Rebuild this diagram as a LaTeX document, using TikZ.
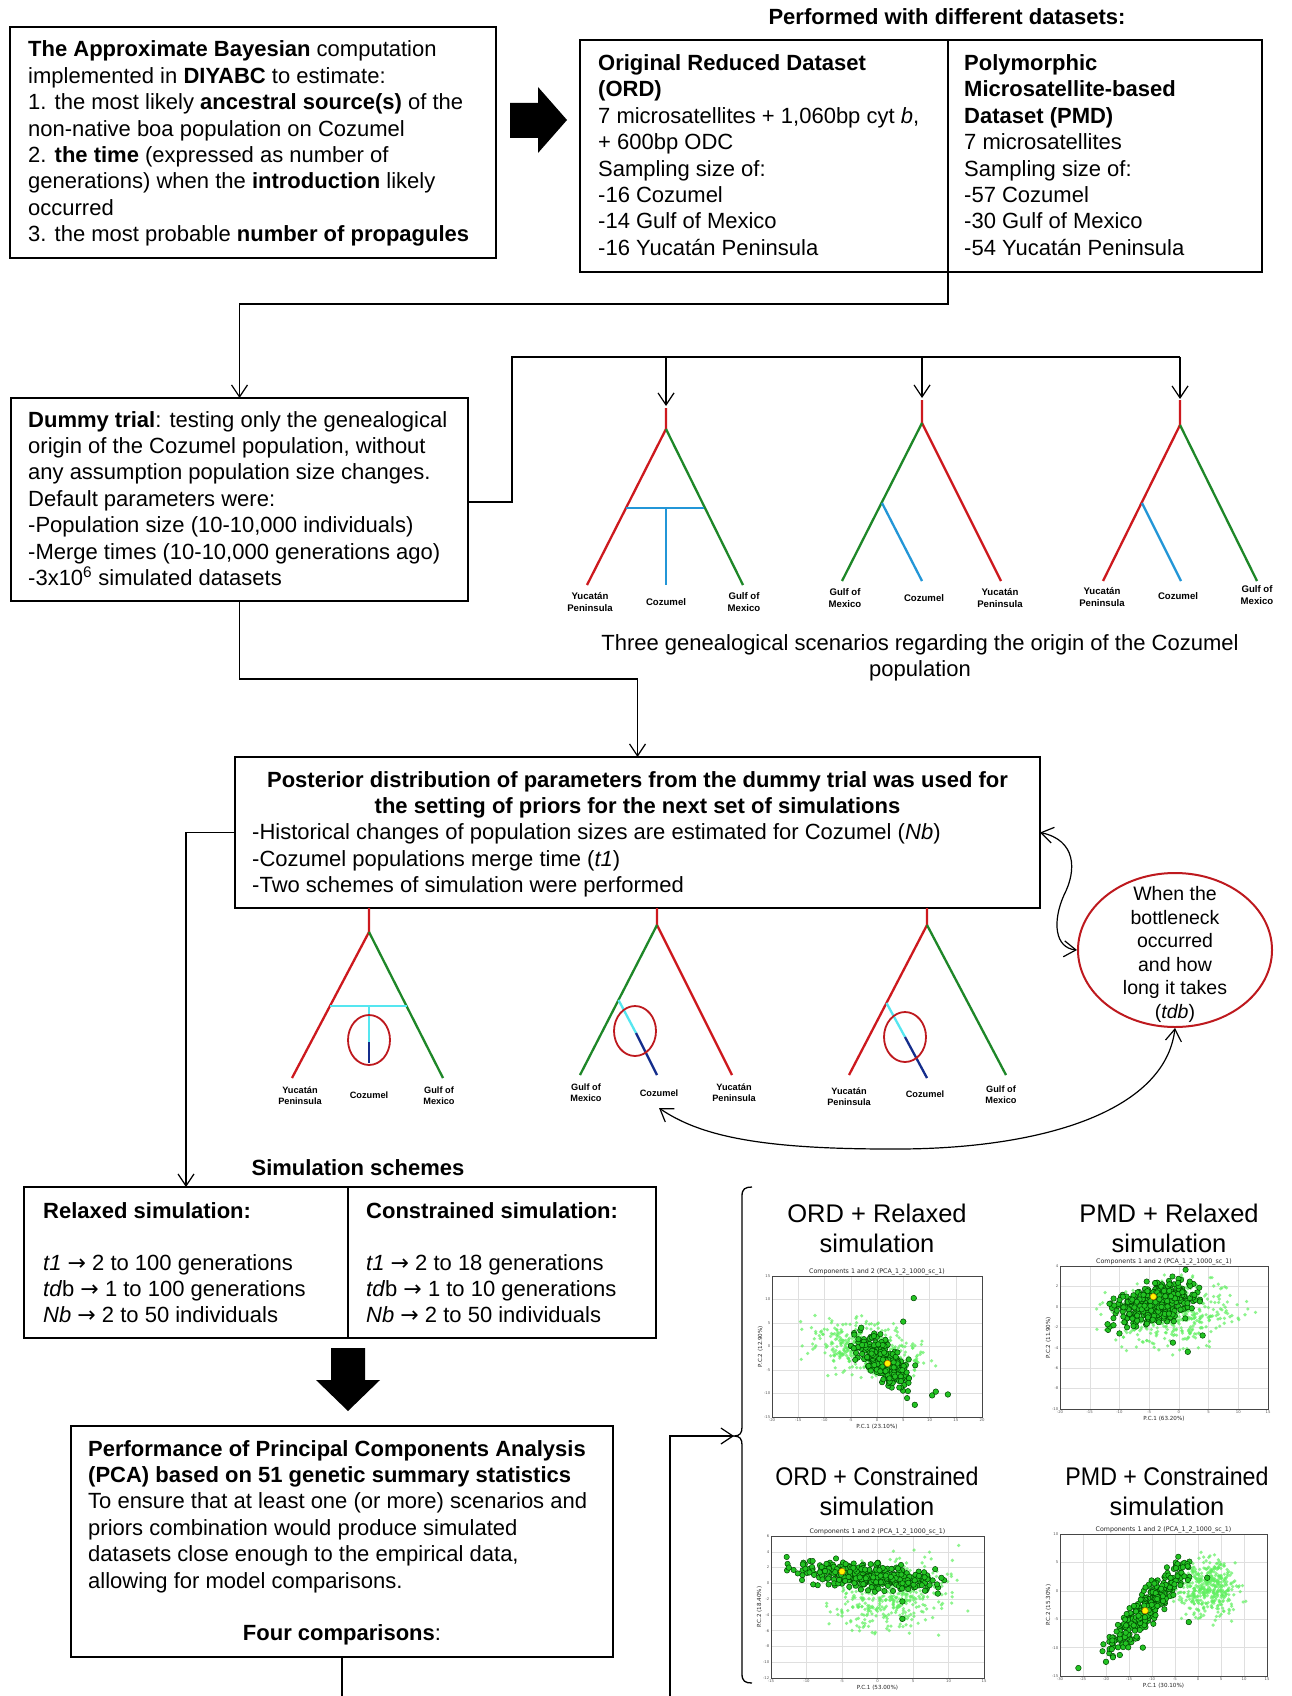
\documentclass[tikz,border=0pt]{standalone}
\usepackage{fontspec}
\usepackage{graphicx}
\setmainfont{Liberation Sans}
\newfontfamily\dejavu{DejaVu Sans}
\usetikzlibrary{arrows.meta,shapes.geometric}
\newcommand\fm{\fontsize{22}{26.4}\selectfont}
\newcommand\fe{\fontsize{19.5}{23.5}\selectfont}
\newcommand\fla{\fontsize{9.6}{11.4}\selectfont\bfseries}
\newcommand\flb{\fontsize{9.2}{11}\selectfont\bfseries}
\newcommand\ft{\fontsize{25.5}{30}\selectfont}
\newcommand\fpt{\dejavu\fontsize{6.3}{8}\selectfont}
\newcommand\fpa{\dejavu\fontsize{5.6}{7}\selectfont}
\newcommand\fpk{\dejavu\fontsize{3.8}{4.5}\selectfont}
\newcommand\ar{{\dejavu\char"2192}}
\definecolor{tred}{RGB}{205,25,30}
\definecolor{tgreen}{RGB}{30,135,40}
\definecolor{tblue}{RGB}{35,150,215}
\definecolor{tcyan}{RGB}{85,230,240}
\definecolor{tnavy}{RGB}{20,45,140}
\definecolor{ered}{RGB}{190,25,30}
\definecolor{lgreen}{RGB}{95,240,95}
\definecolor{dgreen}{RGB}{35,195,35}
\definecolor{dedge}{RGB}{0,70,0}
\tikzset{
  box/.style={draw, line width=1.4pt, anchor=north west, inner sep=0pt, outer sep=0pt},
  txt/.style={anchor=base west, inner sep=0pt, align=left, font=\fm},
  ctxt/.style={anchor=base, inner sep=0pt, align=center, font=\fm},
  conn/.style={line width=1.2pt, -{Straight Barb[length=12pt,width=16pt]}},
  dconn/.style={line width=1.2pt, {Straight Barb[length=12pt,width=16pt]}-{Straight Barb[length=12pt,width=16pt]}},
  plainline/.style={line width=1.2pt},
  thickline/.style={line width=2.8pt},
  branch/.style={line width=2.3pt},
  lab/.style={anchor=center, inner sep=0pt, align=center, font=\fla},
  labb/.style={anchor=center, inner sep=0pt, align=center, font=\flb},
  bneck/.style={draw=ered, line width=1.8pt, ellipse, inner sep=0pt, minimum width=42pt, minimum height=50pt},
  gridl/.style={gray!25, line width=0.4pt},
  tickl/.style={inner sep=0.5pt, font=\fpk, text=gray!70!black},
  pfr/.style={draw=gray!55!black, line width=0.8pt, anchor=north west, inner sep=0pt, outer sep=0pt},
  ptit/.style={anchor=base, inner sep=0pt, font=\fpt, text=gray!30!black},
  pax/.style={inner sep=0pt, font=\fpa, text=gray!30!black},
  ttl/.style={anchor=base, inner sep=0pt, align=center, font=\ft},
}
% plot helpers
\newcommand\pframe[5]{%
  \pgfmathsetmacro\PW{\PR-\PL}\pgfmathsetmacro\PH{\PB-\PT}%
  \foreach \v [count=\k] in {#2}{%
    \pgfmathsetmacro\px{\PL+(\v-(\XA))*\SX}%
    \draw[gridl] (\px,\PT) -- (\px,\PB);
    \node[tickl, anchor=north] (#1x\k) at (\px,\PB+1) {\v};
  }%
  \foreach \v [count=\k] in {#3}{%
    \pgfmathsetmacro\py{\PB-(\v-(\YA))*\SY}%
    \draw[gridl] (\PL,\py) -- (\PR,\py);
    \node[tickl, anchor=east] (#1y\k) at (\PL-1,\py) {\v};
  }%
  \node[pfr, minimum width=\PW pt, minimum height=\PH pt] (#1) at (\PL,\PT) {};
  \node[ptit] (#1t) at ({(\PL+\PR)/2},\PT-2.5) {Components 1 and 2 (PCA\_1\_2\_1000\_sc\_1)};
  \node[pax, anchor=north] (#1xl) at ({(\PL+\PR)/2},\PB+7) {#4};
  \node[pax, rotate=90, anchor=south] (#1yl) at (\PL-9,{(\PT+\PB)/2}) {#5};
}
\newcommand\pcloud[8]{%
  \foreach \i in {1,...,#1}{%
    \pgfmathsetmacro\ga{rand+rand+rand}%
    \pgfmathsetmacro\gb{rand+rand+rand}%
    \pgfmathsetmacro\px{\PL+((#2)+(#3)*(\ga)-(\XA))*\SX}%
    \pgfmathsetmacro\py{\PB-((#4)+(#5)*(\ga)+(#6)*(\gb)-(\YA))*\SY}%
    \path[#7] (\px,\py) circle[radius=#8];
  }}
\newcommand\pout[2]{%
  \pgfmathsetmacro\px{\PL+((#1)-(\XA))*\SX}%
  \pgfmathsetmacro\py{\PB-((#2)-(\YA))*\SY}%
  \filldraw[fill=dgreen, draw=dedge, line width=0.5pt] (\px,\py) circle[radius=2.8];}
\newcommand\pdot[2]{%
  \pgfmathsetmacro\px{\PL+((#1)-(\XA))*\SX}%
  \pgfmathsetmacro\py{\PB-((#2)-(\YA))*\SY}%
  \filldraw[fill=yellow, draw=orange!70!black, line width=0.4pt] (\px,\py) circle[radius=3.2];}
\newcommand\setplot[8]{%
  \def\PL{#1}\def\PT{#2}\def\PR{#3}\def\PB{#4}\def\XA{#5}\def\XB{#6}\def\YA{#7}\def\YB{#8}%
  \pgfmathsetmacro\SX{(\PR-\PL)/(\XB-\XA)}\pgfmathsetmacro\SY{(\PB-\PT)/(\YB-\YA)}}

\begin{document}
\begin{tikzpicture}[x=1pt,y=-1pt]
\fill[white] (0,0) rectangle (1291,1696);
\useasboundingbox (0,0) rectangle (1291,1696);
\pgfmathsetseed{4711}

% ---------- top row ----------
% (multi-line text nodes: the base anchor is the baseline of the last line)
\node[box, minimum width=486pt, minimum height=231pt] (abc) at (10,27) {};
\node[txt] (abctext) at (28,241.8) {\textbf{The Approximate Bayesian} computation\\
implemented in \textbf{DIYABC} to estimate:\\
1. the most likely \textbf{ancestral source(s)} of the\\
non-native boa population on Cozumel\\
2. \textbf{the time} (expressed as number of\\
generations) when the \textbf{introduction} likely\\
occurred\\
3. the most probable \textbf{number of propagules}};

\fill (510,103) -- (538,103) -- (538,87) -- (567,120) -- (538,153) -- (538,138) -- (510,138) -- cycle;

\node[ctxt] (perf) at (947,25) {\textbf{Performed with different datasets:}};
\node[box, minimum width=368pt, minimum height=232pt] (ord) at (580,40) {};
\node[box, minimum width=314pt, minimum height=232pt] (pmd) at (948,40) {};
\node[txt] (ordtext) at (598,255.3) {\textbf{Original Reduced Dataset}\\
\textbf{(ORD)}\\
7 microsatellites + 1,060bp cyt \textit{b},\\
+ 600bp ODC\\
Sampling size of:\\
-16 Cozumel\\
-14 Gulf of Mexico\\
-16 Yucatán Peninsula};
\node[txt] (pmdtext) at (964,255.3) {\textbf{Polymorphic}\\
\textbf{Microsatellite-based}\\
\textbf{Dataset (PMD)}\\
7 microsatellites\\
Sampling size of:\\
-57 Cozumel\\
-30 Gulf of Mexico\\
-54 Yucatán Peninsula};

% ---------- dummy trial ----------
\node[box, minimum width=457pt, minimum height=203pt] (dummy) at (11,398) {};
\node[txt] (dummytext) at (28,585.4) {\textbf{Dummy trial}: testing only the genealogical\\
origin of the Cozumel population, without\\
any assumption population size changes.\\
Default parameters were:\\
-Population size (10-10,000 individuals)\\
-Merge times (10-10,000 generations ago)\\
-3x10\textsuperscript{6} simulated datasets};

\coordinate (k1) at (948,304);
\draw[conn] (ord.south east) -- (k1) -| (dummy.north);

\coordinate (hubA) at (512,502);
\coordinate (hubB) at (512,357);
\coordinate (j1) at (666,357);
\coordinate (j2) at (922,357);
\coordinate (j3) at (1180,357);
\draw[thickline] (dummy.east |- hubA) -- (hubA) -- (hubB) -- (j3);
\coordinate (r1) at (666,406);
\coordinate (r2) at (922,398);
\coordinate (r3) at (1180,399);
\draw[conn] (j1) -- (r1);
\draw[conn] (j2) -- (r2);
\draw[conn] (j3) -- (r3);

% tree 1
\draw[branch, tred] (666,408) -- (666,429) -- (587,585);
\draw[branch, tgreen] (666,429) -- (743,585);
\draw[branch, tblue] (626,508) -- (704,508) (666,508) -- (666,585);
% tree 2
\draw[branch, tred] (922,400) -- (922,423) -- (1001,581);
\draw[branch, tgreen] (922,423) -- (842,581);
\draw[branch, tblue] (882,503) -- (922,581);
% tree 3
\draw[branch, tred] (1180,400) -- (1180,425) -- (1103,581);
\draw[branch, tgreen] (1180,425) -- (1257,581);
\draw[branch, tblue] (1142,503) -- (1181,581);

\node[lab] (y1) at (590,602) {Yucatán\\Peninsula};
\node[lab] (c1) at (666,602) {Cozumel};
\node[lab] (g1) at (744,602) {Gulf of\\Mexico};
\node[lab] (g2) at (845,598) {Gulf of\\Mexico};
\node[lab] (c2) at (924,598) {Cozumel};
\node[lab] (y2) at (1000,598) {Yucatán\\Peninsula};
\node[lab] (y3) at (1102,597) {Yucatán\\Peninsula};
\node[lab] (c3) at (1178,596) {Cozumel};
\node[lab] (g3) at (1257,595) {Gulf of\\Mexico};

\node[ctxt] (cap) at (920,676.4) {Three genealogical scenarios regarding the origin of the Cozumel\\population};

% ---------- posterior ----------
\node[box, minimum width=805pt, minimum height=151pt] (post) at (235,757) {};
\node[ctxt] (posthead) at (637.5,813.4) {\textbf{Posterior distribution of parameters from the dummy trial was used for}\\
\textbf{the setting of priors for the next set of simulations}};
\node[txt] (posttext) at (252,892.6) {-Historical changes of population sizes are estimated for Cozumel (\textit{Nb})\\
-Cozumel populations merge time (\textit{t1})\\
-Two schemes of simulation were performed};
\coordinate (k2) at (239.5,679);
\draw[conn] (dummy.south) -- (k2) -| (post.north);

% trees row 2
% A
\draw[branch, tred] (369,908) -- (369,932) -- (292,1078);
\draw[branch, tgreen] (369,932) -- (443,1078);
\draw[branch, tcyan] (330,1006) -- (407,1006) (369,1006) -- (369,1042);
\draw[branch, tnavy] (369,1042) -- (369,1063);
\node[bneck] (bA) at (369,1040) {};
% B
\draw[branch, tred] (657,908) -- (657,925) -- (732,1075);
\draw[branch, tgreen] (657,925) -- (580,1075);
\draw[branch, tcyan] (618.5,1000) -- (636,1033);
\draw[branch, tnavy] (636,1033) -- (657,1075);
\node[bneck] (bB) at (635,1031) {};
% C
\draw[branch, tred] (927,908) -- (927,925) -- (849,1075);
\draw[branch, tgreen] (927,925) -- (1006,1075);
\draw[branch, tcyan] (886.5,1003) -- (905,1037);
\draw[branch, tnavy] (905,1037) -- (927,1078);
\node[bneck] (bC) at (905,1037) {};

\node[labb] (yA) at (300,1096) {Yucatán\\Peninsula};
\node[labb] (cA) at (369,1095) {Cozumel};
\node[labb] (gA) at (439,1096) {Gulf of\\Mexico};
\node[labb] (gB) at (586,1093) {Gulf of\\Mexico};
\node[labb] (cB) at (659,1093) {Cozumel};
\node[labb] (yB) at (734,1093) {Yucatán\\Peninsula};
\node[labb] (yC) at (849,1097) {Yucatán\\Peninsula};
\node[labb] (cC) at (925,1094) {Cozumel};
\node[labb] (gC) at (1001,1095) {Gulf of\\Mexico};

% bottleneck ellipse
\node[draw=ered, line width=2pt, ellipse, inner sep=0pt, minimum width=194pt, minimum height=154pt] (ell) at (1175,950) {};
\node[anchor=base, inner sep=0pt, align=center, font=\fe] (elltext) at (1175,1018) {When the\\bottleneck\\occurred\\and how\\long it takes\\(\textit{tdb})};
\draw[dconn] (post.east) .. controls (1076,840) and (1077,870) .. (1064,895) .. controls (1052,922) and (1055,948) .. (ell.west);
\coordinate (cBtip) at (659,1108);
\draw[dconn] (cBtip) .. controls (700,1136) and (760,1149) .. (890,1149) .. controls (1040,1150) and (1165,1112) .. (ell.south);

% ---------- simulation schemes ----------
\node[ctxt] (simtitle) at (358,1175) {\textbf{Simulation schemes}};
\node[box, minimum width=324pt, minimum height=151pt] (relax) at (24,1187) {};
\node[box, minimum width=308pt, minimum height=151pt] (constr) at (348,1187) {};
\draw[conn] (post.west) -| (relax.north);
\node[txt] (relhead) at (43,1218) {\textbf{Relaxed simulation:}};
\node[txt] (reltext) at (43,1322.8) {\textit{t1} \ar{} 2 to 100 generations\\
\textit{td}b \ar{} 1 to 100 generations\\
\textit{Nb} \ar{} 2 to 50 individuals};
\node[txt] (conhead) at (366,1218) {\textbf{Constrained simulation:}};
\node[txt] (context) at (366,1322.8) {\textit{t1} \ar{} 2 to 18 generations\\
\textit{td}b \ar{} 1 to 10 generations\\
\textit{Nb} \ar{} 2 to 50 individuals};

\fill (331,1348) -- (365,1348) -- (365,1380) -- (380,1380) -- (348,1411) -- (316,1380) -- (331,1380) -- cycle;

% ---------- PCA ----------
\node[box, minimum width=542pt, minimum height=231pt] (pca) at (71,1426) {};
\node[txt] (pcatext) at (88,1588) {\textbf{Performance of Principal Components Analysis}\\
\textbf{(PCA) based on 51 genetic summary statistics}\\
To ensure that at least one (or more) scenarios and\\
priors combination would produce simulated\\
datasets close enough to the empirical data,\\
allowing for model comparisons.};
\node[ctxt] (four) at (342,1640) {\textbf{Four comparisons}:};
\coordinate (bot1) at (342,1696);
\draw[plainline] (pca.south) -- (bot1);
\coordinate (bot2) at (670,1696);
\coordinate (brtip) at (734,1436);
\draw[conn] (bot2) |- (brtip);

% brace
\draw[line width=1.3pt] (752,1187) .. controls (745,1187) and (742,1189) .. (742,1196) -- (742,1427) .. controls (742,1433) and (740,1436) .. (734,1436) .. controls (740,1436) and (742,1439) .. (742,1445) -- (742,1674) .. controls (742,1681) and (745,1683) .. (752,1683);

% ---------- plot titles ----------
\node[ttl] (tt1) at (877,1252) {ORD + Relaxed\\simulation};
\node[ttl] (tt2) at (1169,1252) {PMD + Relaxed\\simulation};
\node[ttl] (tt3) at (877,1515) {\scalebox{0.91}[1]{ORD + Constrained}\\simulation};
\node[ttl] (tt4) at (1167,1515) {\scalebox{0.91}[1]{PMD + Constrained}\\simulation};

% ---------- plot 1 ----------
\setplot{772}{1276}{982}{1417}{-20}{20}{-15}{15}
\pframe{pa}{-20,-15,...,20}{-15,-10,...,15}{P.C.1 (23.10\%)}{P.C.2 (12.90\%)}
\begin{scope}
\clip (\PL,\PT) rectangle (\PR,\PB);
\pcloud{420}{-1.5}{5}{-0.5}{-0.8}{2.6}{fill=lgreen,fill opacity=0.7}{1.8}
\pcloud{330}{1}{2.4}{-3}{-1.7}{2.0}{fill=dgreen,draw=dedge,line width=0.5pt}{2.7}
\pout{7}{10.3}\pout{13.5}{-10.2}\pout{10.5}{-10.4}\pout{11.2}{-9.6}\pout{7.2}{-12.4}\pout{5}{5.3}\pout{-3}{4}
\pdot{2}{-3.6}
\end{scope}

% ---------- plot 2 ----------
\setplot{1060}{1266}{1268}{1409}{-20}{15}{-10}{4}
\pframe{pb}{-20,-15,...,15}{-10,-8,...,4}{P.C.1 (63.20\%)}{P.C.2 (11.90\%)}
\begin{scope}
\clip (\PL,\PT) rectangle (\PR,\PB);
\pcloud{420}{-1}{5.2}{-0.6}{0.3}{1.5}{fill=lgreen,fill opacity=0.7}{1.8}
\pcloud{340}{-4}{3.4}{0.4}{0.45}{0.95}{fill=dgreen,draw=dedge,line width=0.5pt}{2.7}
\pout{1.5}{-4.4}\pout{-1}{-3.5}\pout{4}{-2.8}\pout{-10}{-2.6}\pout{-11}{-1.8}\pout{-12}{-1.7}
\pdot{-4.3}{1}
\end{scope}

% ---------- plot 3 ----------
\setplot{771}{1536}{984}{1678}{-15}{15}{-12}{6}
\pframe{pc}{-15,-10,...,15}{-12,-10,...,6}{P.C.1 (53.00\%)}{P.C.2 (18.40\%)}
\begin{scope}
\clip (\PL,\PT) rectangle (\PR,\PB);
\pcloud{420}{1.5}{4}{-1.6}{0.3}{2.1}{fill=lgreen,fill opacity=0.7}{1.8}
\pcloud{340}{-1.5}{4.4}{0.9}{-0.4}{0.75}{fill=dgreen,draw=dedge,line width=0.5pt}{2.7}
\pout{3.5}{-4.5}\pout{8.5}{-1.3}\pout{3.5}{-2.3}\pout{-12.5}{2}\pout{9}{0.7}\pout{-10.5}{2.4}
\pdot{-5}{1.5}
\end{scope}

% ---------- plot 4 ----------
\setplot{1060}{1534}{1267}{1676}{-30}{15}{-15}{10}
\pframe{pd}{-30,-25,...,15}{-15,-10,...,10}{P.C.1 (30.10\%)}{P.C.2 (15.30\%)}
\begin{scope}
\clip (\PL,\PT) rectangle (\PR,\PB);
\pcloud{420}{2}{3.2}{0.5}{0}{2.4}{fill=lgreen,fill opacity=0.7}{1.8}
\pcloud{340}{-11}{3.8}{-3}{3.3}{1.6}{fill=dgreen,draw=dedge,line width=0.5pt}{2.7}
\pout{-26}{-13.6}\pout{-20}{-12.5}\pout{-17}{-11.3}\pout{-12}{-10}\pout{-2}{-5.5}\pout{2}{2.3}
\pdot{-11.5}{-3.5}
\end{scope}

\end{tikzpicture}
\end{document}
